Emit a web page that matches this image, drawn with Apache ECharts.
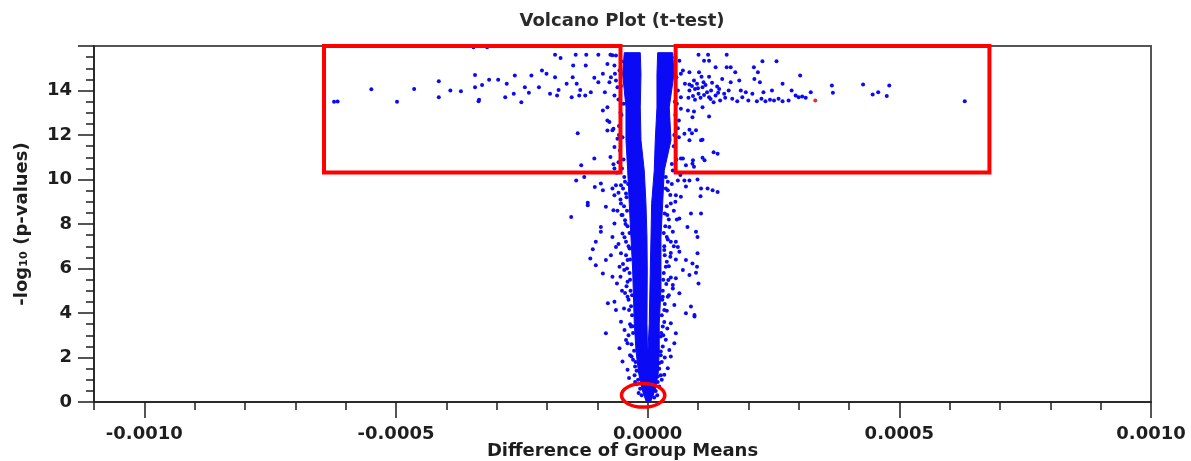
<!DOCTYPE html>
<html>
<head>
<meta charset="utf-8">
<title>Volcano Plot (t-test)</title>
<script src="https://cdn.jsdelivr.net/npm/echarts@6/dist/echarts.min.js"></script>
<style>
  html, body { margin: 0; padding: 0; background: #ffffff; }
  #chart { width: 1191px; height: 461px; }
</style>
</head>
<body>
<div id="chart"></div>
<script>
// ---- Labels ---------------------------------------------------------------
const chartTitle = 'Volcano Plot (t-test)';
const xTitle = 'Difference of Group Means';
const yTitle = '-log\u2081\u2080 (p-values)';

// ---- Axes -----------------------------------------------------------------
const xRange = [-0.0011, 0.0010];
const xMajorTicks = [-0.0010, -0.0005, 0.0000, 0.0005, 0.0010];
const xMinorStep = 0.0001;
const yRange = [0, 16];
const yMajorStep = 2;

// ---- Data (x in units of 1e-6, y = -log10 p) ------------------------------
// Genes with lower group means (left wing and left flank of the stem)
const leftGenes = [
  [-346,15.94],[-319,15.94],[-184,15.61],[-173,15.46],[-143,15.61],[-122,15.61],[-98,15.61],[-74,15.61],
  [-70,15.58],[-148,15.12],[-123,15.12],[-80,15.19],[-210,14.90],[-201,14.75],[-343,14.70],[-415,14.42],
  [-297,14.48],[-315,14.48],[-264,14.67],[-231,14.67],[-184,14.60],[-549,14.06],[-464,14.07],[-415,13.70],
  [-498,13.49],[-623,13.49],[-616,13.51],[-392,14.00],[-371,13.97],[-343,14.15],[-329,14.25],[-335,13.58],
  [-336,13.52],[-280,14.30],[-283,13.70],[-266,13.85],[-251,13.47],[-244,14.15],[-236,13.90],[-216,14.15],
  [-194,13.85],[-180,13.77],[-177,14.02],[-161,14.30],[-149,14.60],[-141,14.30],[-134,14.02],[-124,13.77],
  [-113,13.92],[-106,14.57],[-98,14.37],[-89,14.75],[-85,13.92],[-76,14.37],[-65,14.75],[-63,14.45],
  [-151,13.70],[-136,13.77],[-89,13.10],[-80,13.25],[-76,12.58],[-139,12.08],[-80,12.20],[-68,12.28],
  [-106,10.94],[-132,10.64],[-68,10.68],[-66,10.49],
  [-63,15.57],[-66,15.12],[-73,14.59],[-60,14.15],[-66,13.77],[-80,12.65],[-70,12.21],[-60,11.83],
  [-66,11.46],[-74,11.01],[-58,10.78],
  [-142,9.96],[-126,10.11],[-105,9.66],[-93,9.82],[-89,9.52],[-119,8.84],[-152,8.32],[-83,8.77],
  [-70,9.59],[-66,9.29],[-63,9.74],[-68,8.62],[-93,7.87],[-93,7.65],[-103,7.20],[-109,6.86],
  [-114,6.45],[-103,6.15],[-89,5.78],[-70,5.63],[-83,6.38],[-70,7.42],[-66,8.02],[-63,6.97],
  [-73,6.60],[-56,6.08],[-61,5.33],[-53,8.92],[-50,8.40],[-119,8.95],
  [-46.5,10.11],[-53,9.74],[-43,9.37],[-54,9.10],[-45,8.17],[-50,7.57],[-43,7.20],[-53,6.68],
  [-40,6.38],[-46.5,5.93],[-54,5.63],[-40,5.41],
  [-79,4.44],[-66,4.51],[-63,4.14],[-83,3.09],[-53,3.61],[-56,2.42],[-50,1.82],[-40,1.45],
  [-37,1.08],[-43,2.79],[-46,3.24],
  [-40,4.73],[-37,4.14],[-33,3.39],[-40,2.64],[-32,2.04],[-25,1.60],
  // flank of the stem
  [-52,15.3],[-56,14.9],[-53,14.2],[-58,13.6],
  [-52,12.9],[-57,12.4],[-50,11.9],[-55,11.3],[-48,10.9],[-61,10.3],[-51,10.5],[-57,12.0],[-48,13.4],[-54,13.0],
  [-45,9.9],[-49,9.6],[-42,9.2],[-58,9.4],[-47,8.8],[-41,8.6],[-52,8.4],[-44,8.0],[-60,8.6],[-39,9.8],
  [-40,7.9],[-46,7.4],[-38,7.0],[-43,6.6],[-36,6.9],[-49,6.2],[-41,6.0],[-36,7.6],[-58,7.1],[-35,6.4],
  [-36,5.8],[-42,5.2],[-34,5.0],[-38,4.6],[-45,4.9],[-33,4.3],[-47,4.2],[-35,5.5],[-51,5.0],[-31,4.8],
  [-31,3.9],[-35,3.5],[-29,3.1],[-38,3.0],[-32,2.6],[-27,2.3],[-35,2.1],[-29,1.9],[-24,1.8],[-30,3.4],
  [-22,1.4],[-26,1.2],[-19,1.0],[-22,0.8],[-15,0.6],[-18,0.4],[-12,0.3],[-25,0.9]
];

// Genes with higher group means (right wing and right flank of the stem)
const rightGenes = [
  [101,15.61],[120,15.61],[157,15.61],[112,15.34],[122,15.34],[228,15.31],[256,15.31],[135,15.04],
  [157,15.04],[165,15.04],[211,15.04],[174,14.82],[219,14.82],[303,14.67],[66,14.75],[83,14.82],
  [102,14.82],[107,14.62],[122,14.62],[92,14.45],[83,14.27],[111,14.37],[148,14.52],[165,14.37],
  [182,14.45],[212,14.52],[223,14.37],[268,14.30],[366,14.22],[428,14.27],[480,14.22],[324,13.92],
  [368,13.90],[447,13.82],[458,13.92],[475,13.75],[630,13.52],
  [83,14.00],[94,14.07],[101,13.85],[109,14.15],[118,13.92],[126,14.00],[135,13.77],[142,14.07],
  [152,13.85],[161,14.00],[168,13.63],[178,13.52],[188,13.70],[200,13.55],[208,13.85],[217,13.52],
  [226,13.63],[234,13.52],[243,13.58],[251,13.55],[260,13.63],[268,13.52],[280,13.55],[286,14.00],
  [294,13.77],[300,13.70],[307,13.73],[314,13.67],[81,13.67],[94,13.58],[105,13.67],[122,13.70],
  [131,13.47],[144,13.55],[154,13.67],[185,14.00],[195,13.92],[230,13.92],[247,14.00],
  [88,14.20],[98,14.30],[115,14.25],[128,14.35],[138,14.18],[100,14.10],[112,13.80],[125,13.62],
  [140,13.90],[90,13.75],
  [66,13.18],[92,13.06],[109,13.25],[122,12.83],[62,12.65],[83,12.24],[88,12.08],[109,11.79],
  [131,11.23],[70,10.94],[90,10.86],[109,10.98],[76,10.64],[92,10.57],
  [63,15.34],[70,14.90],[74,14.30],[66,13.70],[80,13.10],[89,12.80],[96,12.21],[73,12.06],
  [83,11.76],[106,11.76],[66,10.94],[89,10.71],[113,10.86],[139,11.16],
  [60,9.96],[73,9.96],[83,9.96],[99,10.00],[106,9.59],[119,9.59],[129,9.52],[139,9.44],
  [76,9.69],[56,9.29],[66,9.22],[105,9.25],[86,8.47],[106,8.47],[63,8.25],[79,7.87],
  [96,7.65],[99,7.42],[46,7.20],[56,7.20],[60,6.97],[63,6.75],[76,6.38],[89,6.23],
  [98,6.08],[70,5.93],[83,5.71],[96,5.81],[56,5.56],[50,5.26],[93,3.84],[99,6.68],
  [101,5.33],[86,4.29],
  [36,10.11],[40,9.52],[46,8.92],[34,8.47],[43,7.87],[38,7.42],[50,7.65],[33,6.83],
  [45,6.53],[36,6.08],[41,5.48],
  [40,4.73],[53,4.36],[76,3.99],[93,3.91],[63,4.89],[46,3.54],[56,3.09],[53,2.64],
  [46,2.04],[40,1.52],[33,1.22],[26,2.27],[43,2.34],
  [30,4.73],[33,4.14],[30,3.39],[26,2.94],[23,1.75],[20,1.15],
  // flank of the stem
  [55,15.5],[57,14.6],[60,14.0],[54,13.5],
  [55,12.9],[60,12.3],[52,11.5],[57,10.9],[50,10.4],[62,11.9],[48,10.7],[58,13.4],[53,12.0],[65,10.2],
  [40,9.9],[45,9.3],[38,8.8],[52,8.6],[42,8.2],[36,9.6],[55,9.0],[48,9.8],[39,8.4],[58,8.2],
  [35,7.9],[40,7.3],[33,7.0],[46,6.7],[38,6.3],[32,7.6],[52,7.0],[42,6.1],[34,6.6],[56,6.4],
  [32,5.8],[37,5.3],[30,5.0],[42,4.8],[34,4.4],[31,5.5],[46,5.6],[29,4.6],[50,5.1],[38,4.1],
  [28,3.9],[33,3.6],[27,3.1],[36,2.8],[30,2.5],[26,2.1],[34,2.0],[28,1.8],[39,3.3],[31,3.0],
  [23,1.5],[26,1.2],[20,0.9],[23,0.7],[16,0.5],[19,0.3],[13,0.2],[28,1.0]
];

// Selected gene (drawn in red)
const selectedGenes = [[333,13.55]];

// Outline of the saturated stem of the volcano (thousands of overlapping genes)
const stemOutline = [
  [-46.5,15.7],[-49.7,14.75],[-43.1,13.25],[-43.1,11.76],[-39.7,10.41],[-36.6,8.92],[-33.2,7.42],
  [-29.8,5.93],[-26.6,3.54],[-23.2,2.3],[-18.0,1.3],[-11.0,0.55],[-3.4,0.05],[0,0],[6.6,0.05],
  [15.0,0.55],[21.0,1.3],[23.0,2.3],[23.0,3.54],[26.4,5.03],[26.4,7.42],[29.8,8.92],[33.0,10.41],
  [46.3,11.76],[42.9,13.25],[52.3,14.75],[49.7,15.7],[19.9,15.7],[18.5,14.75],[18.5,13.25],
  [15.1,11.76],[13.1,10.41],[7.9,8.92],[6.6,7.42],[5.2,5.93],[3.2,3.54],[0.6,2.3],[-0.4,2.3],
  [-1.4,3.54],[-0.8,5.93],[-1.4,7.42],[-3.4,8.92],[-6.8,10.41],[-13.3,11.76],[-14.7,13.25],
  [-13.3,14.75],[-14.7,15.7]
];

// Highlight boxes [xFrom, xTo, yFrom, yTo] and the ellipse around the origin
const highlightBoxes = [
  [-643, -54, 10.31, 16.0],
  [55.6, 679, 10.31, 16.0]
];
const originRing = { cx: -9, cy: 0.30, rx: 43, ry: 0.53 };

// ---- Chart ----------------------------------------------------------------
const FONT = 'DejaVu Sans';
const INK = '#1e1e1e';
const BLUE = '#0a0af4';
const scale = v => v * 1e-6;
const toValues = list => list.map(p => [scale(p[0]), p[1]]);

const chart = echarts.init(document.getElementById('chart'), null, { renderer: 'canvas' });

const labelStyle = { fontFamily: FONT, fontSize: 18, fontWeight: 'bold', color: INK };

const option = {
  animation: false,
  backgroundColor: '#ffffff',
  title: {
    text: chartTitle,
    left: 622,
    top: 12,
    textAlign: 'center',
    padding: 0,
    textStyle: { fontFamily: FONT, fontSize: 18, fontWeight: 'bold', color: '#2a2a2a' }
  },
  grid: {
    left: 94, right: 40, top: 46, bottom: 59,
    outerBoundsMode: 'none',
    show: true, borderColor: '#555555', borderWidth: 2, backgroundColor: 'transparent'
  },
  xAxis: [
    {
      type: 'value',
      min: xRange[0], max: xRange[1], interval: xMinorStep,
      position: 'bottom',
      axisLine: { show: true, onZero: false, lineStyle: { color: INK, width: 1.5 } },
      axisTick: { show: true, inside: false, length: 8, lineStyle: { color: INK, width: 1.5 } },
      axisLabel: Object.assign({
        customValues: xMajorTicks,
        formatter: v => Number(v).toFixed(4),
        margin: 23
      }, labelStyle),
      splitLine: { show: false },
      name: xTitle,
      nameLocation: 'middle',
      nameGap: 40,
      nameMoveOverlap: false,
      nameTextStyle: labelStyle
    },
    {
      type: 'value',
      min: xRange[0], max: xRange[1],
      position: 'bottom',
      axisLine: { show: false, onZero: false },
      axisTick: { show: true, inside: false, customValues: xMajorTicks, length: 16,
                  lineStyle: { color: INK, width: 1.5 } },
      axisLabel: { show: false },
      splitLine: { show: false }
    }
  ],
  yAxis: {
    type: 'value',
    min: yRange[0], max: yRange[1], interval: yMajorStep,
    axisLine: { show: true, onZero: false, lineStyle: { color: INK, width: 1.5 } },
    axisTick: { show: true, inside: false, length: 16, lineStyle: { color: INK, width: 1.5 } },
    minorTick: { show: true, splitNumber: 4, length: 8, lineStyle: { color: INK, width: 1.5 } },
    axisLabel: Object.assign({ margin: 22, showMaxLabel: false }, labelStyle),
    splitLine: { show: false },
    minorSplitLine: { show: false },
    name: yTitle,
    nameLocation: 'middle',
    nameGap: 63,
    nameMoveOverlap: false,
    nameTextStyle: labelStyle
  },
  series: [
    {
      // dense stem of the volcano
      type: 'custom',
      silent: true,
      xAxisIndex: 0, yAxisIndex: 0,
      data: [[0, 0]],
      renderItem: (params, api) => ({
        type: 'polygon',
        shape: { points: stemOutline.map(p => api.coord([scale(p[0]), p[1]])) },
        style: { fill: BLUE, stroke: BLUE, lineWidth: 1 }
      }),
      z: 2
    },
    {
      type: 'scatter',
      silent: true,
      xAxisIndex: 0, yAxisIndex: 0,
      symbol: 'circle', symbolSize: 4,
      itemStyle: { color: BLUE, opacity: 1 },
      data: toValues(leftGenes).concat(toValues(rightGenes)),
      z: 3
    },
    {
      type: 'scatter',
      silent: true,
      xAxisIndex: 0, yAxisIndex: 0,
      symbol: 'circle', symbolSize: 4,
      itemStyle: { color: '#e23030', opacity: 1 },
      data: toValues(selectedGenes),
      z: 4
    },
    {
      // highlight boxes
      type: 'custom',
      silent: true,
      clip: false,
      xAxisIndex: 0, yAxisIndex: 0,
      data: highlightBoxes.map(b => [scale(b[0]), scale(b[1]), b[2], b[3]]),
      renderItem: (params, api) => {
        const a = api.coord([api.value(0), api.value(3)]);
        const b = api.coord([api.value(1), api.value(2)]);
        return {
          type: 'rect',
          shape: { x: a[0], y: a[1], width: b[0] - a[0], height: b[1] - a[1] },
          style: { fill: 'none', stroke: '#ff0000', lineWidth: 4 }
        };
      },
      z: 10
    },
    {
      // ellipse around the origin
      type: 'custom',
      silent: true,
      clip: false,
      xAxisIndex: 0, yAxisIndex: 0,
      data: [[scale(originRing.cx), originRing.cy]],
      renderItem: (params, api) => {
        const c = api.coord([scale(originRing.cx), originRing.cy]);
        const ex = api.coord([scale(originRing.cx + originRing.rx), originRing.cy]);
        const ey = api.coord([scale(originRing.cx), originRing.cy + originRing.ry]);
        return {
          type: 'ellipse',
          shape: { cx: c[0], cy: c[1], rx: Math.abs(ex[0] - c[0]), ry: Math.abs(c[1] - ey[1]) },
          style: { fill: 'none', stroke: '#ff0000', lineWidth: 3.5 }
        };
      },
      z: 10
    }
  ]
};

chart.setOption(option);
</script>
</body>
</html>
